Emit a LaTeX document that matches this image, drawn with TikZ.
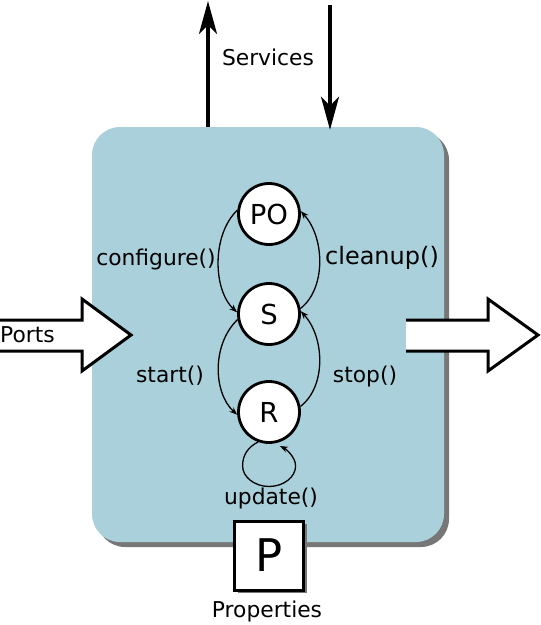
\documentclass[tikz,border=0pt]{standalone}
\usepackage{fontspec}
\setmainfont{DejaVu Sans}
\usetikzlibrary{arrows.meta,shadows}
\definecolor{boxblue}{RGB}{170,209,219}
\definecolor{shadowgray}{RGB}{119,119,119}
\begin{document}
\begin{tikzpicture}[x=1pt,y=-1pt,
  state/.style={circle, draw, line width=2.8pt, fill=white, minimum size=61pt, inner sep=0pt, font=\fontsize{27.5}{31}\selectfont},
  lbl/.style={inner sep=0pt, font=\fontsize{21.8}{25}\selectfont},
  arc/.style={line width=1.3pt, -{Stealth[length=8pt,width=6pt]}},
  svc/.style={line width=3.5pt, -{Stealth[length=33pt,width=18pt,inset=9pt]}},
  blockarrow/.style={line width=3pt, line join=miter, fill=white}
]
\useasboundingbox (0,0) rectangle (541,625);

% component box
\node[fill=boxblue, rounded corners=28pt, minimum width=352pt, minimum height=415pt, inner sep=0pt,
  drop shadow={shadow xshift=5pt, shadow yshift=-5pt, opacity=1, fill=shadowgray}] (comp) at (268,334.5) {};

% services
\coordinate (svcout) at (208,1);
\coordinate (svcin) at (330,5);
\draw[svc] (comp.north -| svcout) -- (svcout);
\draw[svc] (svcin) -- ([yshift=-3pt]svcin |- comp.north);
\node[lbl] (services) at (268,57) {Services};

% ports
\filldraw[blockarrow] (-4,320) -- (82,320) -- (82,299) -- (131,335) -- (82,371) -- (82,351) -- (-4,351);
\node[lbl, anchor=west] (ports) at (0,335) {Ports};
\filldraw[blockarrow] (406,320) -- (488,320) -- (488,299) -- (538,335) -- (488,371) -- (488,351) -- (406,351);

% states
\node[state] (PO) at (269,214) {PO};
\node[state] (S) at (269,314) {S};
\node[state] (R) at (269,412) {R};

\draw[arc] (PO.173) .. controls +(-26,25) and +(-24,-22) .. (S.177);
\draw[arc] (S.10) .. controls +(26,-20) and +(24,26) .. (PO.5);
\draw[arc] (S.190) .. controls +(-26,25) and +(-24,-22) .. (R.185);
\draw[arc] (R.10) .. controls +(26,-20) and +(24,26) .. (S.5);
\draw[arc] (R.250) .. controls +(-10,5) and +(0,-11) .. +(-15.5,24)
  .. controls +(0,11) and +(-14.6,0) .. +(11,44.5)
  .. controls +(14.6,0) and +(0,11) .. +(37.5,24)
  .. controls +(0,-9) and +(6,3) .. ([yshift=-4pt]R.290);

\node[lbl] (configure) at (156,259) {configure()};
\node[inner sep=0pt, font=\fontsize{24}{28}\selectfont] (cleanup) at (382,258) {cleanup()};
\node[lbl] (start) at (170,376) {start()};
\node[lbl] (stop) at (365,376) {stop()};
\node[lbl] (update) at (271,498) {update()};

% properties
\node[draw, line width=3pt, fill=white, minimum size=69pt, inner sep=0pt,
  drop shadow={shadow xshift=3pt, shadow yshift=-3pt, opacity=1, fill=shadowgray},
  font=\fontsize{45}{49}\selectfont] (P) at (269,555.5) {P};
\node[lbl] (properties) at (267,611) {Properties};
\end{tikzpicture}
\end{document}
